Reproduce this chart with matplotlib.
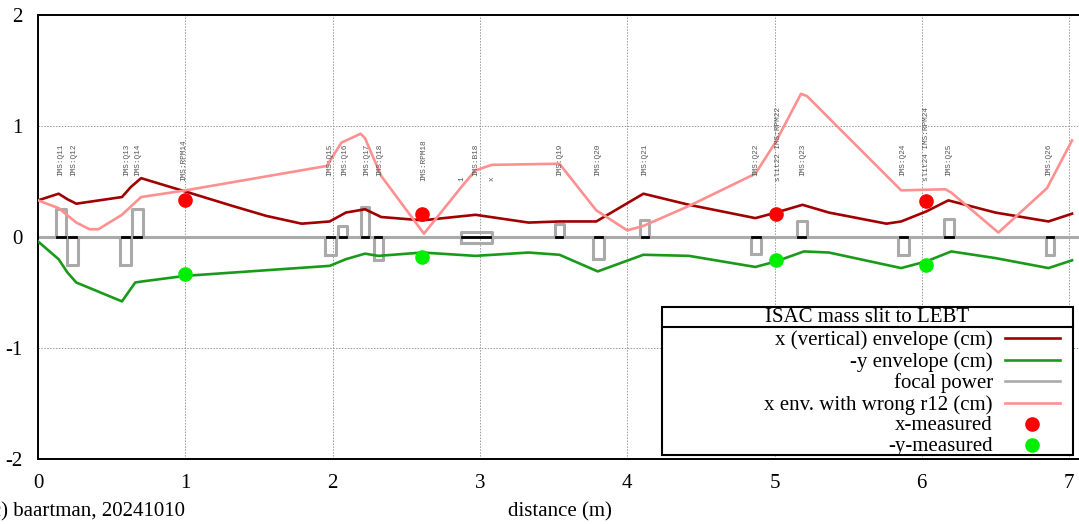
import numpy as np
import matplotlib
matplotlib.use("Agg")
import matplotlib.pyplot as plt
from matplotlib.patches import Rectangle
from matplotlib.lines import Line2D

# envelope data (m, cm)
x_env_s = [0.0, 0.14, 0.20, 0.26, 0.57, 0.63, 0.70, 1.0, 1.32, 1.55, 1.79, 1.98, 2.09, 2.22, 2.33,
           2.61, 2.97, 3.33, 3.54, 3.79, 4.11, 4.42, 4.87, 5.01, 5.19, 5.37, 5.76, 5.86, 6.03,
           6.18, 6.50, 6.86, 7.02]
x_env = [0.33, 0.39, 0.34, 0.30, 0.36, 0.45, 0.53, 0.41, 0.28, 0.19, 0.12, 0.14, 0.22, 0.25, 0.18,
         0.15, 0.20, 0.13, 0.14, 0.14, 0.39, 0.29, 0.17, 0.22, 0.29, 0.22, 0.12, 0.14, 0.23,
         0.33, 0.22, 0.14, 0.21]

y_env_s = [0.0, 0.14, 0.20, 0.26, 0.57, 0.66, 0.71, 1.0, 1.98, 2.09, 2.22, 2.31, 2.61, 2.97, 3.33,
           3.54, 3.80, 4.11, 4.42, 4.87, 5.01, 5.20, 5.37, 5.86, 6.03, 6.20, 6.50, 6.86, 7.02]
y_env = [-0.04, -0.20, -0.32, -0.41, -0.58, -0.41, -0.40, -0.35, -0.26, -0.20, -0.15, -0.17, -0.14,
         -0.17, -0.14, -0.16, -0.31, -0.16, -0.17, -0.27, -0.22, -0.13, -0.14, -0.28, -0.22, -0.13,
         -0.19, -0.28, -0.21]

wrong_s = [0.0, 0.14, 0.26, 0.35, 0.41, 0.57, 0.70, 1.0, 1.96, 2.06, 2.19, 2.22, 2.33, 2.62, 2.88,
           2.97, 3.08, 3.54, 3.79, 4.0, 4.11, 4.42, 4.87, 5.01, 5.18, 5.22, 5.86, 6.16, 6.20,
           6.52, 6.85, 7.02]
wrong_env = [0.33, 0.26, 0.13, 0.07, 0.07, 0.20, 0.36, 0.42, 0.64, 0.85, 0.93, 0.89, 0.55, 0.03, 0.46,
             0.60, 0.65, 0.66, 0.24, 0.06, 0.10, 0.28, 0.57, 0.86, 1.29, 1.27, 0.42, 0.43, 0.40,
             0.04, 0.44, 0.87]

meas_s = [1.0, 2.61, 5.01, 6.03]
meas_x = [0.33, 0.21, 0.21, 0.32]
meas_y = [-0.33, -0.18, -0.21, -0.25]

# focal power elements
elem_start = [0.12, 0.20, 0.56, 0.64, 1.95, 2.04, 2.19, 2.28, 2.87, 3.51, 3.77, 4.09, 4.84, 5.15, 5.84, 6.15, 6.84]
elem_end = [0.19, 0.27, 0.63, 0.71, 2.02, 2.10, 2.25, 2.34, 3.08, 3.57, 3.84, 4.15, 4.91, 5.22, 5.91, 6.22, 6.90]
elem_lo = [0, -0.25, -0.25, 0, -0.16, 0, 0, -0.21, -0.055, 0, -0.20, 0, -0.15, 0, -0.16, 0, -0.16]
elem_hi = [0.25, 0, 0, 0.25, 0, 0.10, 0.27, 0, 0.045, 0.12, 0, 0.15, 0, 0.14, 0, 0.16, 0]

# element labels
lab_s = [0.155, 0.24, 0.60, 0.68, 0.99, 1.98, 2.08, 2.23, 2.32, 2.62, 2.88, 2.97, 3.08, 3.54, 3.80,
         4.12, 4.87, 5.03, 5.19, 5.87, 6.03, 6.18, 6.86]
lab_y = [0.55, 0.55, 0.55, 0.55, 0.505, 0.55, 0.55, 0.55, 0.55, 0.505, 0.505, 0.55, 0.505, 0.55, 0.55,
         0.55, 0.55, 0.505, 0.55, 0.55, 0.505, 0.55, 0.55]
lab_txt = ["IMS:Q11", "IMS:Q12", "IMS:Q13", "IMS:Q14", "IMS:RPM14", "IMS:Q15", "IMS:Q16", "IMS:Q17",
           "IMS:Q18", "IMS:RPM18", "1", "IMS:B18", "x", "IMS:Q19", "IMS:Q20", "IMS:Q21", "IMS:Q22",
           "slit22 IMS:RPM22", "IMS:Q23", "IMS:Q24", "slit24 IMS:RPM24", "IMS:Q25", "IMS:Q26"]

W, H = 1079, 524
plt.rcParams['font.family'] = ['Liberation Serif', 'DejaVu Serif']
plt.rcParams['axes.unicode_minus'] = False
fig = plt.figure(figsize=(W / 100, H / 100), dpi=100)

def fx(px):
    return px / W

def fy(py):
    return 1 - py / H

ax = fig.add_axes([fx(38), fy(459), fx(W - 38), (459 - 15) / H])
ax.set_xlim(0, (W - 38) / 147.3)
ax.set_ylim(-2, 2)
ax.set_xticks(range(0, 8))
ax.set_yticks([-2, -1, 0, 1, 2])
ax.grid(True, color='#999999', linestyle=(0, (1.5, 1.5)), linewidth=0.7)
ax.set_axisbelow(True)
ax.spines['right'].set_visible(False)
for side in ['left', 'top', 'bottom']:
    ax.spines[side].set_linewidth(1.4)
ax.tick_params(length=0, labelsize=15, pad=11)

lc_red = '#a00000'
lc_green = '#1a9a1a'
lc_gray = '#aaaaaa'
lc_pink = '#ff9090'

ax.plot(x_env_s, x_env, color=lc_red, lw=1.9, zorder=3)
ax.plot(y_env_s, y_env, color=lc_green, lw=1.9, zorder=3)

# focal power: baseline + element boxes
ax.axhline(0, color=lc_gray, lw=2.2, zorder=2)
for s0, s1, lo, hi in zip(elem_start, elem_end, elem_lo, elem_hi):
    ax.plot([s0, s0, s1, s1, s0], [lo, hi, hi, lo, lo], color=lc_gray, lw=2.2, zorder=2)
    ax.plot([s0 + 0.01, s1 - 0.01], [0, 0], color='black', lw=2.0, zorder=2.5)

ax.plot(wrong_s, wrong_env, color=lc_pink, lw=1.9, zorder=4)
ax.plot(meas_s, meas_x, 'o', color='#ff0000', ms=9.5, zorder=5)
ax.plot(meas_s, meas_y, 'o', color='#00ee00', ms=9.5, zorder=5)

for s, yy, t in zip(lab_s, lab_y, lab_txt):
    ax.text(s, yy, t, rotation=90, ha='center', va='bottom', fontsize=5.6,
            family='Liberation Mono', color='#555555', zorder=6)

# legend box
box = Rectangle((fx(662), fy(455)), fx(1073 - 662), (455 - 307) / H, transform=fig.transFigure,
                facecolor='white', edgecolor='black', lw=1.5, zorder=10)
fig.add_artist(box)
fig.add_artist(Line2D([fx(662), fx(1073)], [fy(327), fy(327)], color='black', lw=1.5, zorder=11))
fig.text(fx(867), fy(318), "ISAC mass slit to LEBT", ha='center', va='center', fontsize=15, zorder=12)
leg_lab = ["x (vertical) envelope (cm)", "-y envelope (cm)", "focal power",
           "x env. with wrong r12 (cm)", "x-measured", "-y-measured"]
leg_rows = [338, 360, 381, 403, 424, 445]
for i, (t, r) in enumerate(zip(leg_lab, leg_rows)):
    fig.text(fx(993), fy(r + 2), t, ha='right', va='center', fontsize=15, zorder=12)
    if i < 4:
        c = [lc_red, lc_green, lc_gray, lc_pink][i]
        fig.add_artist(Line2D([fx(1005), fx(1060)], [fy(r), fy(r)], color=c, lw=1.9, zorder=12))
    else:
        c = ['#ff0000', '#00ee00'][i - 4]
        fig.add_artist(Line2D([fx(1032)], [fy(r)], marker='o', color=c, ms=9.5, zorder=12))

fig.text(fx(560), fy(512), "distance (m)", ha='center', va='center', fontsize=15)
# partly cut off at the left edge, as in the original
fig.text(fx(185), fy(512), "(c) baartman, 20241010", ha='right', va='center', fontsize=15)

fig.savefig("out.png", dpi=100)
